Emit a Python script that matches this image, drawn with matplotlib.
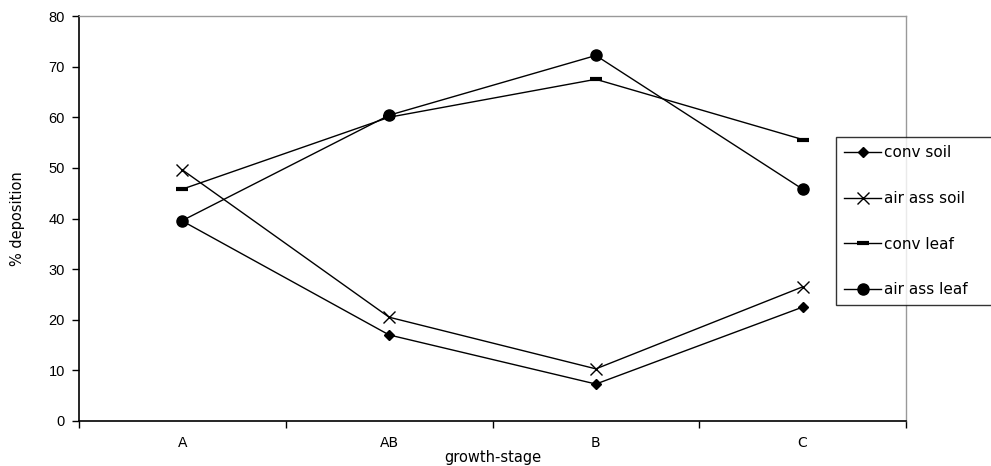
import matplotlib
matplotlib.use("Agg")
import matplotlib.pyplot as plt

plt.rcParams['font.family'] = ['Liberation Sans', 'DejaVu Sans']

stages = ["A", "AB", "B", "C"]
conv_soil = [39.5, 17.0, 7.3, 22.5]
air_ass_soil = [49.6, 20.5, 10.3, 26.5]
conv_leaf = [45.8, 60.0, 67.5, 55.6]
air_ass_leaf = [39.6, 60.4, 72.2, 45.8]
series_labels = ["conv soil", "air ass soil", "conv leaf", "air ass leaf"]
yticks = [0, 10, 20, 30, 40, 50, 60, 70, 80]

W, H = 991, 466
fig = plt.figure(figsize=(W / 100, H / 100), dpi=100)
ax = fig.add_axes([79 / W, 1 - 421 / H, (906 - 79) / W, (421 - 16) / H])

x = list(range(len(stages)))
lw = 1.0
h1, = ax.plot(x, conv_soil, color='black', lw=lw, marker='D', markersize=5.5,
              label=series_labels[0])
h2, = ax.plot(x, air_ass_soil, color='black', lw=lw, marker='x', markersize=8,
              markeredgewidth=1.0, label=series_labels[1])
h3, = ax.plot(x, conv_leaf, color='black', lw=lw, marker='_', markersize=9,
              markeredgewidth=3, label=series_labels[2])
h4, = ax.plot(x, air_ass_leaf, color='black', lw=lw, marker='o', markersize=8,
              label=series_labels[3])

ax.set_xlim(-0.5, len(stages) - 0.5)
ax.set_ylim(0, 80)
ax.set_yticks(yticks)
ax.set_xticks(x)
ax.set_xticklabels(stages, family='DejaVu Sans')
ax.set_xticks([i - 0.5 for i in range(len(stages) + 1)], minor=True)
ax.tick_params(axis='x', which='major', length=0, pad=11, labelsize=10)
ax.tick_params(axis='x', which='minor', length=5, width=1, direction='out')
ax.tick_params(axis='y', length=5, width=1, direction='out', labelsize=10.5, pad=5)

for s in ['top', 'right']:
    ax.spines[s].set_color('#999999')
    ax.spines[s].set_linewidth(1.0)
for s in ['left', 'bottom']:
    ax.spines[s].set_color('black')
    ax.spines[s].set_linewidth(1.2)

ax.set_xlabel("growth-stage", fontsize=10.5, family='DejaVu Sans', labelpad=0)
ax.set_ylabel("% deposition", fontsize=10.5, family='DejaVu Sans', labelpad=17)

leg = fig.legend(handles=[h1, h2, h3, h4], loc='upper left',
                 bbox_to_anchor=(836 / W, 1 - 137 / H, 170 / W, 0), mode='expand',
                 prop={'family': 'DejaVu Sans', 'size': 11},
                 frameon=True, fancybox=False, edgecolor='black',
                 handlelength=2.4, handletextpad=0.2, labelspacing=2.0,
                 borderpad=0.55, borderaxespad=0)
leg.get_frame().set_linewidth(1.0)

fig.savefig("out.png", dpi=100, facecolor='white')
